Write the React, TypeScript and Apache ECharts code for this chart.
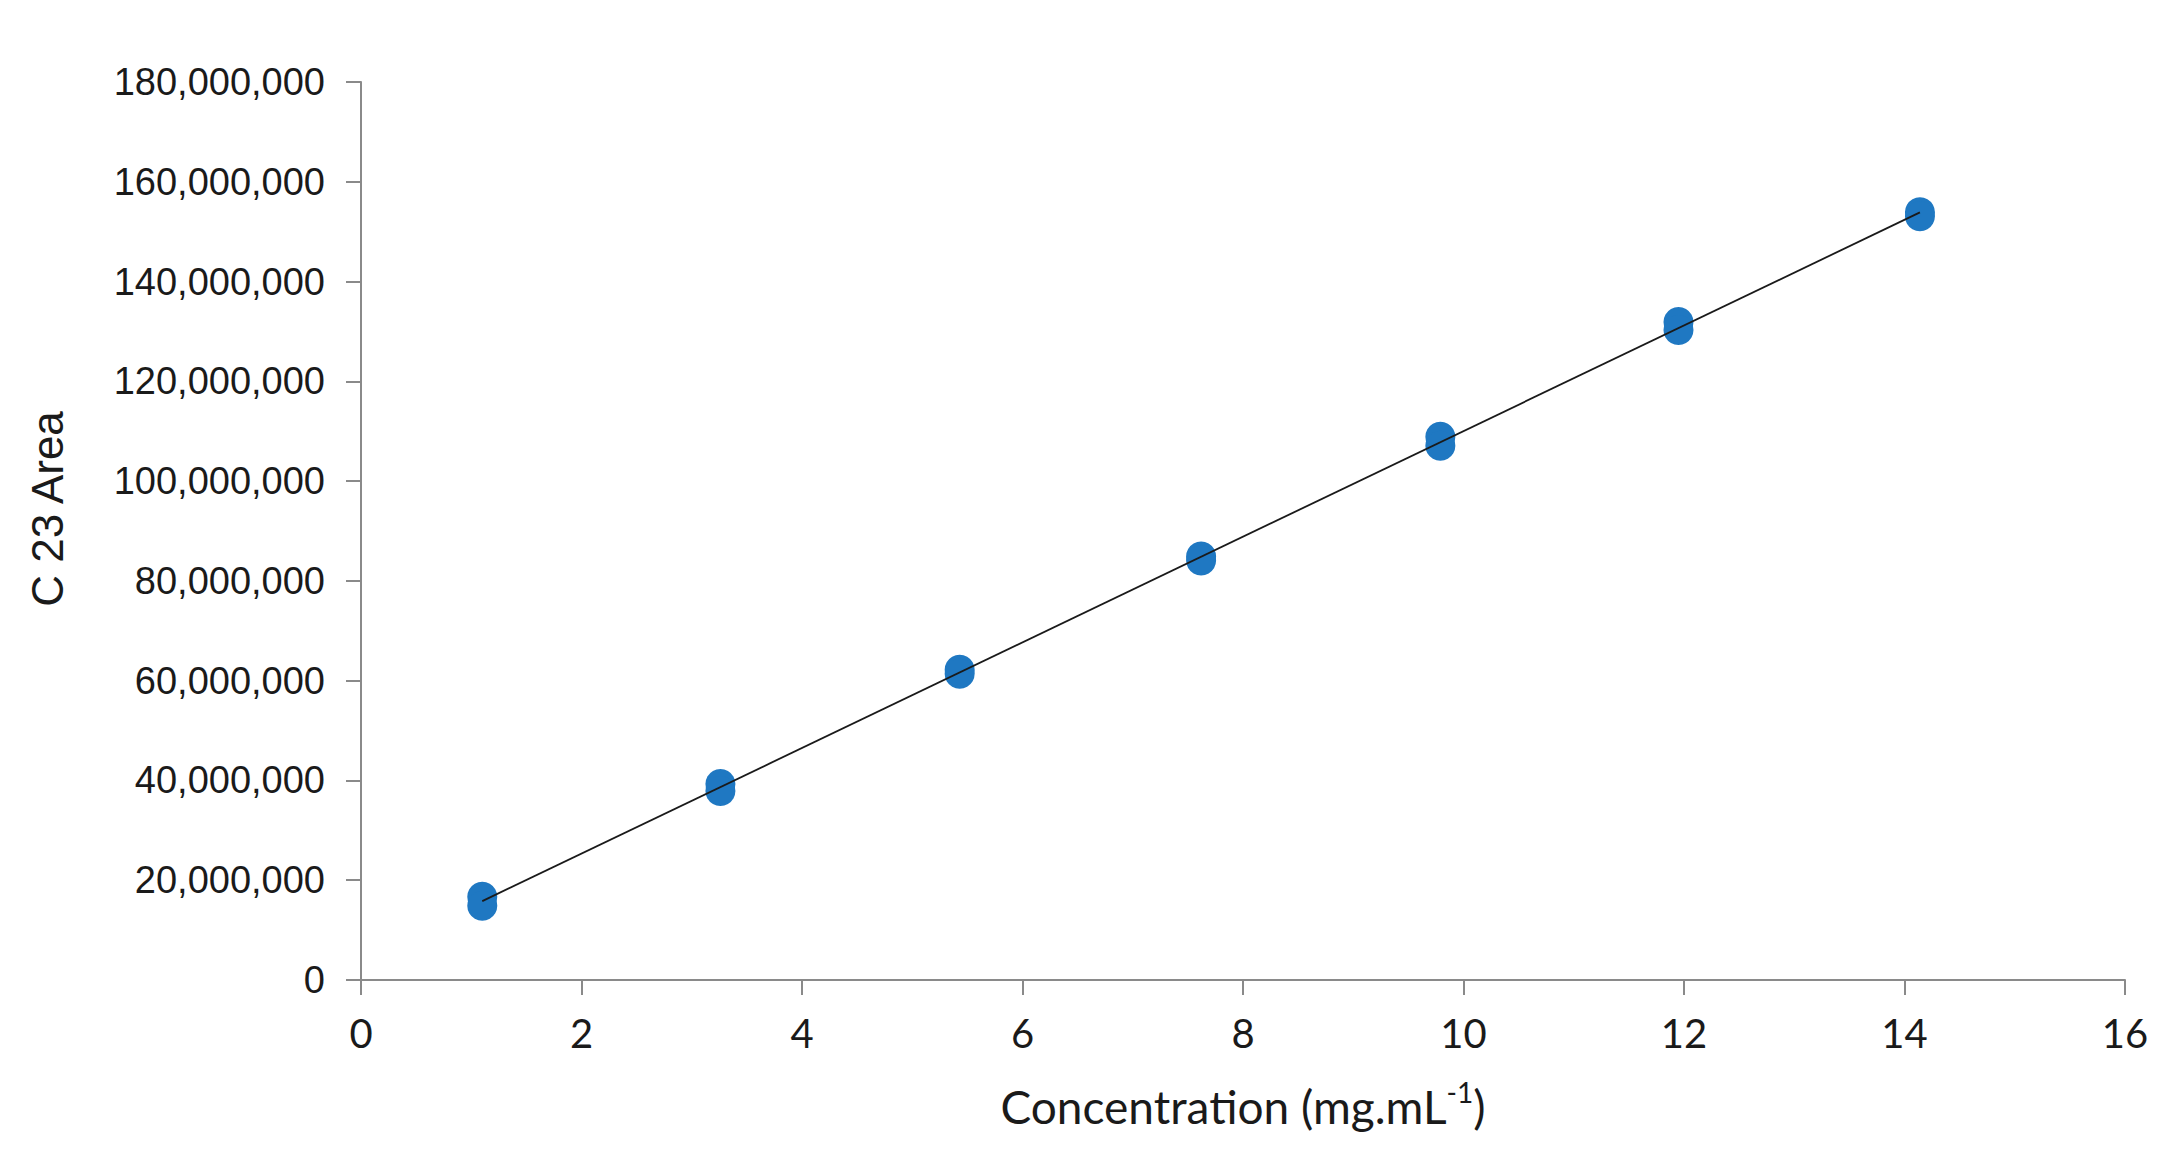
import React, { useEffect, useRef } from "react";
import * as echarts from "echarts";

// Concentration (mg.mL-1) of each standard, with replicate C23 peak areas
const concentrations = [1.10, 3.26, 5.43, 7.62, 9.79, 11.95, 14.14];
const areaRep1 = [16700000, 39300000, 62200000, 84900000, 108900000, 131900000, 153900000];
const areaRep2 = [14900000, 37900000, 61400000, 84100000, 107100000, 130300000, 153100000];

const yTicks = { min: 0, max: 180000000, interval: 20000000 };
const xTicks = { min: 0, max: 16, interval: 2 };

const xTitle = "Concentration (mg.mL";
const xTitleSup = "-1";
const yTitle = "C 23 Area";

function fitLine(xs: number[], ys: number[]) {
  const n = xs.length;
  const mx = xs.reduce((a, b) => a + b, 0) / n;
  const my = ys.reduce((a, b) => a + b, 0) / n;
  let sxy = 0;
  let sxx = 0;
  for (let i = 0; i < n; i++) {
    sxy += (xs[i] - mx) * (ys[i] - my);
    sxx += (xs[i] - mx) * (xs[i] - mx);
  }
  const slope = sxy / sxx;
  return { slope, intercept: my - slope * mx };
}

export default function App() {
  const ref = useRef<HTMLDivElement>(null);

  useEffect(() => {
    if (!ref.current) return;
    const chart = echarts.init(ref.current, undefined, { renderer: "svg" });

    const points: number[][] = [];
    concentrations.forEach((c, i) => {
      points.push([c, areaRep1[i]]);
      points.push([c, areaRep2[i]]);
    });
    const xs = points.map((p) => p[0]);
    const ys = points.map((p) => p[1]);
    const { slope, intercept } = fitLine(xs, ys);
    const x0 = Math.min(...concentrations);
    const x1 = Math.max(...concentrations);
    const trend = [
      [x0, intercept + slope * x0],
      [x1, intercept + slope * x1],
    ];

    const axisColor = "#8a8a8a";

    chart.setOption({
      animation: false,
      backgroundColor: "#ffffff",
      grid: { left: 361, right: 46, top: 82, bottom: 177, containLabel: false },
      xAxis: {
        type: "value",
        min: xTicks.min,
        max: xTicks.max,
        interval: xTicks.interval,
        splitLine: { show: false },
        axisLine: { show: true, onZero: false, lineStyle: { color: axisColor, width: 2 } },
        axisTick: { show: true, length: 15, lineStyle: { color: axisColor, width: 2 } },
        axisLabel: {
          margin: 33,
          color: "#1a1a1a",
          fontFamily: "Lato",
          fontSize: 40,
        },
        name: "{t|" + xTitle + "}{s|" + xTitleSup + "}{t|)}",
        nameLocation: "middle",
        nameGap: 98,
        nameTextStyle: {
          rich: {
            t: { fontFamily: "Lato", fontSize: 46, color: "#1a1a1a", lineHeight: 56 },
            s: {
              fontFamily: "Lato",
              fontSize: 28,
              color: "#1a1a1a",
              lineHeight: 56,
              verticalAlign: "top",
              padding: [0, 0, 24, 0],
            },
          },
        },
      },
      yAxis: {
        type: "value",
        min: yTicks.min,
        max: yTicks.max,
        interval: yTicks.interval,
        splitLine: { show: false },
        axisLine: { show: true, lineStyle: { color: axisColor, width: 2 } },
        axisTick: { show: true, length: 15, lineStyle: { color: axisColor, width: 2 } },
        axisLabel: {
          margin: 36,
          color: "#1a1a1a",
          fontFamily: "Liberation Sans",
          fontSize: 38,
          formatter: (v: number) => v.toLocaleString("en-US"),
        },
        name: yTitle,
        nameLocation: "middle",
        nameRotate: 90,
        nameGap: 292,
        nameTextStyle: {
          fontFamily: "Liberation Sans",
          fontSize: 44,
          color: "#1a1a1a",
          padding: [0, 0, 0, 44],
        },
      },
      series: [
        {
          type: "scatter",
          data: points,
          symbol: "circle",
          symbolSize: 30,
          itemStyle: { color: "#1f78c2", opacity: 1 },
          z: 2,
        },
        {
          type: "line",
          data: trend,
          symbol: "none",
          lineStyle: { color: "#1a1a1a", width: 1.8 },
          z: 3,
        },
      ],
    });

    return () => chart.dispose();
  }, []);

  return (
    <div
      ref={ref}
      style={{ position: "fixed", left: 0, top: 0, width: 2171, height: 1157, background: "#fff" }}
    />
  );
}
